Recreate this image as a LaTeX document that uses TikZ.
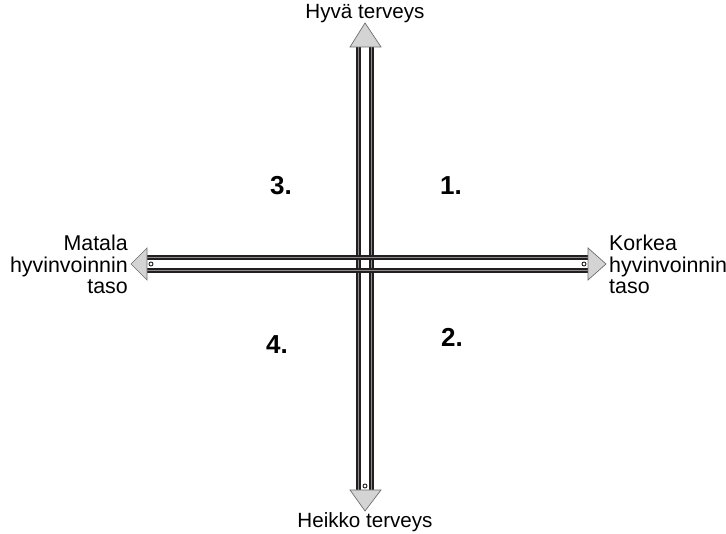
\documentclass[tikz,border=0pt]{standalone}
\usepackage{fontspec}
\setmainfont{Liberation Sans}
\definecolor{darkc}{HTML}{231F20}
\definecolor{grayc}{HTML}{8C8C8C}
\definecolor{headfill}{HTML}{D4D4D4}
\definecolor{headline}{HTML}{6E6E6E}
\begin{document}
\begin{tikzpicture}[x=1pt,y=-1pt,
  stripdark/.style={draw=darkc, line width=5pt},
  stripgray/.style={draw=grayc, line width=1pt},
  headstyle/.style={fill=headfill, draw=headline, line width=0.7pt, line join=miter},
  endmark/.style={draw=darkc, line width=0.9pt, fill=white},
  lbl/.style={font=\fontsize{20.6}{22}\selectfont, inner sep=0pt},
  side/.style={font=\fontsize{21.4}{21.5}\selectfont, inner sep=0pt},
  num/.style={font=\bfseries\fontsize{26}{30}\selectfont, inner sep=0pt}]
\useasboundingbox (0,0) rectangle (726,534);
\fill[white] (0,0) rectangle (726,534);
% shaft end points
\coordinate (vt) at (365,47);
\coordinate (vb) at (365,490);
\coordinate (hl) at (147,264);
\coordinate (hr) at (588,264);
% vertical shaft
\foreach \o in {-6.5,6.5} {
  \draw[stripdark] ([xshift=\o pt]vt) -- ([xshift=\o pt]vb);
  \draw[stripgray] ([xshift=\o pt]vt) -- ([xshift=\o pt]vb);
}
% horizontal shaft
\foreach \o in {-6.5,6.5} {
  \draw[stripdark] ([yshift=\o pt]hl) -- ([yshift=\o pt]hr);
  \draw[stripgray] ([yshift=\o pt]hl) -- ([yshift=\o pt]hr);
}
% end marks
\draw[endmark] (365,486) circle (2);
\draw[endmark] (151,264) circle (2);
\draw[endmark] (584,264) circle (2);
% arrow heads
\draw[headstyle] (350,47) -- (365,23) -- (381,47) -- cycle;
\draw[headstyle] (350,490) -- (365,511) -- (381,490) -- cycle;
\draw[headstyle] (147,248) -- (131,264) -- (147,280) -- cycle;
\draw[headstyle] (588,248) -- (606,264) -- (588,280) -- cycle;
% labels
\node[lbl, anchor=base] (top) at (365,19) {Hyvä terveys};
\node[lbl, anchor=base] (bot) at (365,528) {Heikko terveys};
\node[side, anchor=north east, align=right] (lft) at (128,235) {Matala\\hyvinvoinnin\\taso};
\node[side, anchor=north west, align=left] (rgt) at (609,235) {Korkea\\hyvinvoinnin\\taso};
% quadrant numbers
\node[num] (q1) at (451,186) {1.};
\node[num] (q2) at (452,337) {2.};
\node[num] (q3) at (281,186) {3.};
\node[num] (q4) at (277,345) {4.};
\end{tikzpicture}
\end{document}
